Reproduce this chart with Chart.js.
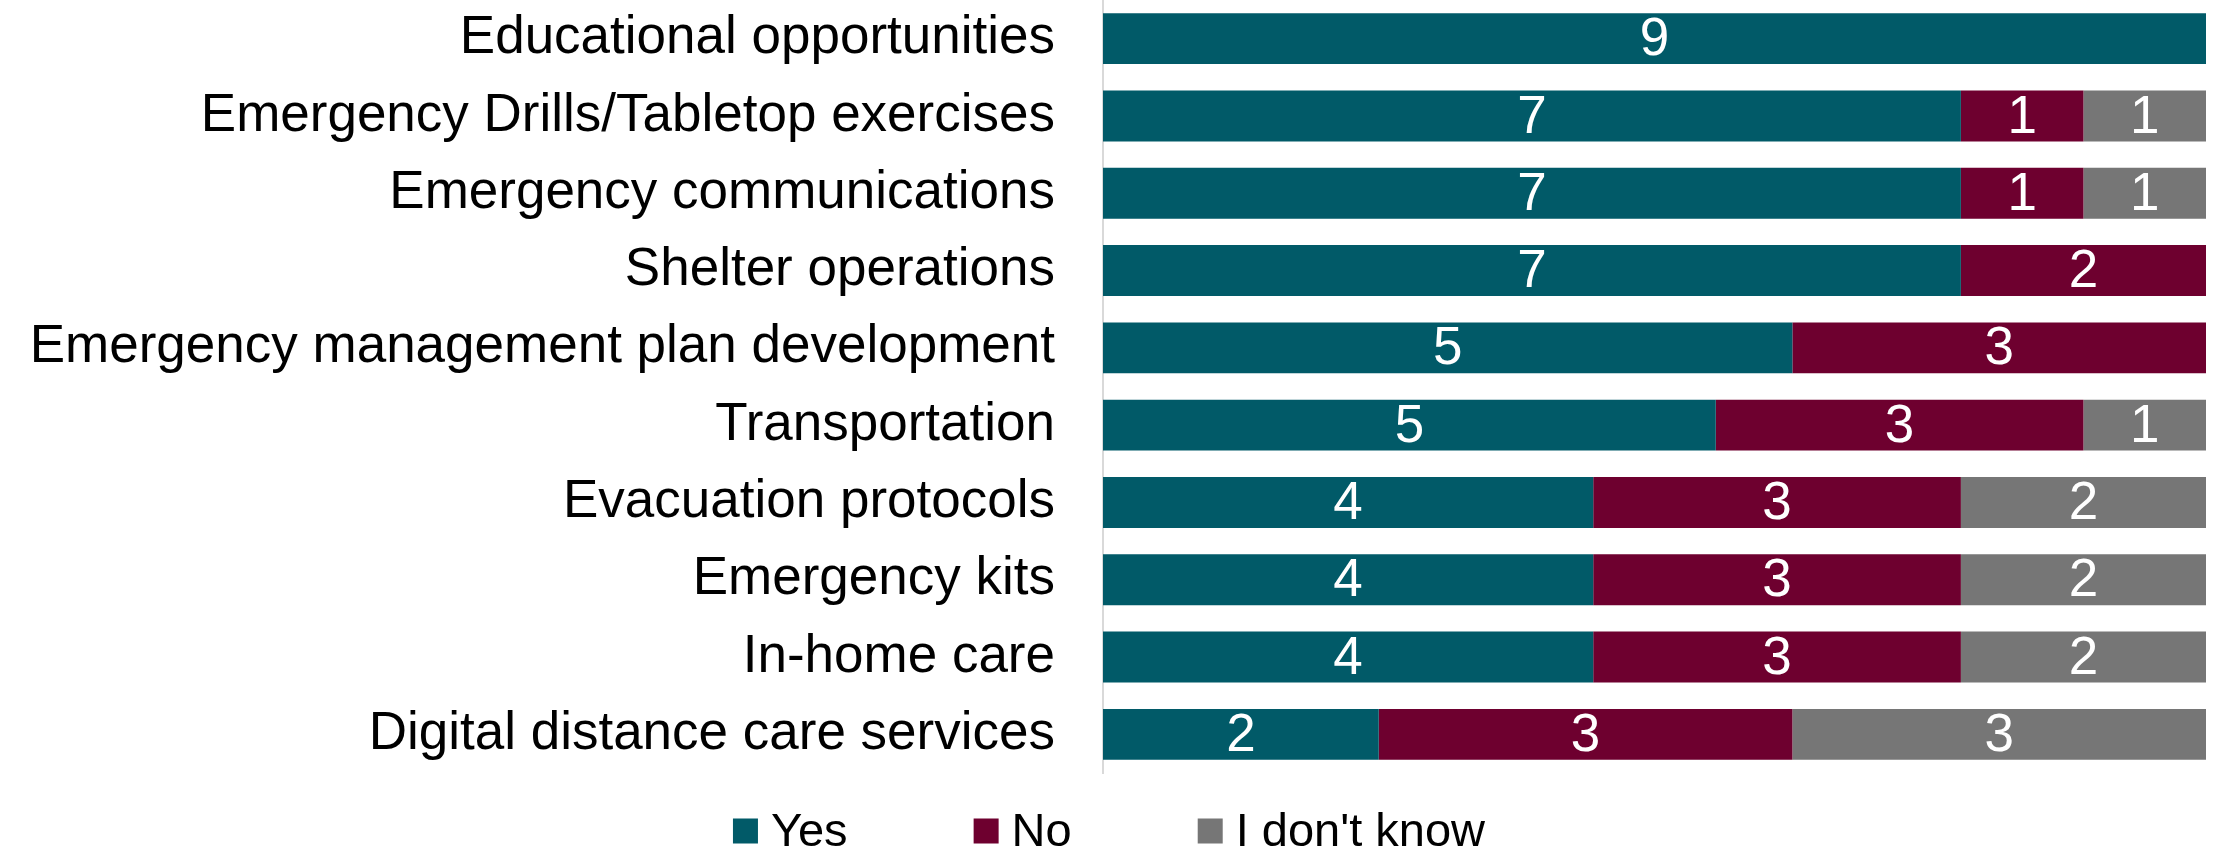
<!DOCTYPE html>
<html>
<head>
<meta charset="utf-8">
<script src="https://cdn.jsdelivr.net/npm/chart.js@4.4.0/dist/chart.umd.min.js"></script>
<style>
  html, body { margin: 0; padding: 0; background: #ffffff; }
  #wrap { width: 2218px; height: 849px; position: relative; }
</style>
</head>
<body>
<div id="wrap"><canvas id="c" width="2218" height="849"></canvas></div>
<script>
const categories = [
  "Educational opportunities",
  "Emergency Drills/Tabletop exercises",
  "Emergency communications",
  "Shelter operations",
  "Emergency management plan development",
  "Transportation",
  "Evacuation protocols",
  "Emergency kits",
  "In-home care",
  "Digital distance care services"
];
const seriesNames = ["Yes", "No", "I don't know"];
const yesCounts      = [9, 7, 7, 7, 5, 5, 4, 4, 4, 2];
const noCounts       = [0, 1, 1, 2, 3, 3, 3, 3, 3, 3];
const dontKnowCounts = [0, 1, 1, 0, 0, 1, 2, 2, 2, 3];
const seriesColors = ["#015A68", "#6E002F", "#767676"];

const FONT = "'Liberation Sans', Arial, Helvetica, sans-serif";
const countsBySeries = [yesCounts, noCounts, dontKnowCounts];
const totals = categories.map((_, i) => yesCounts[i] + noCounts[i] + dontKnowCounts[i]);

const datasets = countsBySeries.map((counts, s) => ({
  label: seriesNames[s],
  data: counts.map((v, i) => totals[i] ? v / totals[i] * 100 : 0),
  counts: counts,
  backgroundColor: seriesColors[s],
  borderWidth: 0,
  barPercentage: 0.658,
  categoryPercentage: 1.0
}));

const valueLabels = {
  id: 'valueLabels',
  afterDatasetsDraw(chart) {
    const ctx = chart.ctx;
    ctx.save();
    ctx.fillStyle = '#ffffff';
    ctx.font = '53px ' + FONT;
    ctx.textAlign = 'center';
    ctx.textBaseline = 'middle';
    chart.data.datasets.forEach((ds, di) => {
      const meta = chart.getDatasetMeta(di);
      meta.data.forEach((bar, i) => {
        const c = ds.counts[i];
        if (!c) return;
        const cx = (bar.x + bar.base) / 2;
        ctx.fillText(String(c), cx, bar.y + 2);
      });
    });
    ctx.restore();
  }
};

const customLegend = {
  id: 'customLegend',
  afterDraw(chart) {
    const ctx = chart.ctx;
    ctx.save();
    ctx.font = '47px ' + FONT;
    ctx.textBaseline = 'alphabetic';
    ctx.textAlign = 'left';
    const box = 25, gapText = 13, spacing = 126;
    const items = chart.data.datasets.map(ds => ({
      text: ds.label, color: ds.backgroundColor, w: ctx.measureText(ds.label).width
    }));
    let total = 0;
    items.forEach((it, k) => { total += box + gapText + it.w + (k < items.length - 1 ? spacing : 0); });
    let x = chart.width / 2 - total / 2;
    const cy = 831;
    const baseline = 846;
    items.forEach(it => {
      ctx.fillStyle = it.color;
      ctx.fillRect(x, cy - box / 2, box, box);
      ctx.fillStyle = '#000000';
      ctx.fillText(it.text, x + box + gapText, baseline);
      x += box + gapText + it.w + spacing;
    });
    ctx.restore();
  }
};

new Chart(document.getElementById('c'), {
  type: 'bar',
  data: { labels: categories, datasets: datasets },
  options: {
    indexAxis: 'y',
    responsive: false,
    animation: false,
    layout: { padding: { top: -2, right: 12, bottom: 76, left: 0 } },
    plugins: {
      legend: { display: false },
      tooltip: { enabled: false }
    },
    scales: {
      x: {
        stacked: true,
        min: 0,
        max: 100,
        display: false
      },
      y: {
        stacked: true,
        afterFit(scale) {
          scale.width = 1103;
          scale.paddingTop = 0;
          scale.paddingBottom = 0;
        },
        grid: { display: true, color: 'rgba(0,0,0,0)', drawTicks: false },
        border: { display: true, color: '#d9d9d9', width: 2 },
        ticks: {
          color: '#000000',
          padding: 48,
          font: { family: FONT, size: 53 }
        }
      }
    }
  },
  plugins: [valueLabels, customLegend]
});
</script>
</body>
</html>
